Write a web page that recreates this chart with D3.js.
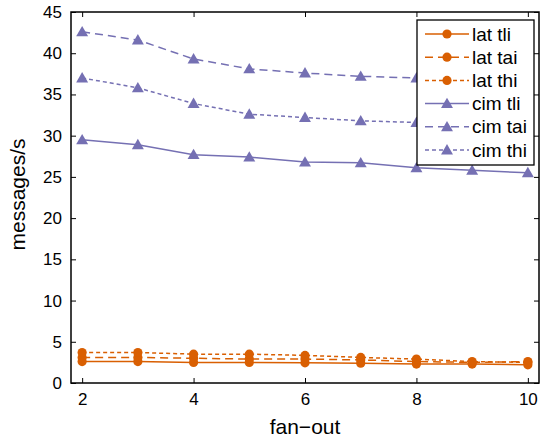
<!DOCTYPE html>
<html><head><meta charset="utf-8">
<script src="https://cdn.jsdelivr.net/npm/d3@7"></script>
<style>body{margin:0;background:#fff}svg{display:block}text{font-family:"Liberation Sans",Arial,sans-serif}</style>
</head><body>
<svg id="c" width="540" height="440"></svg>
<script>
const fanOut = [2, 3, 4, 5, 6, 7, 8, 9, 10];
const latTli = [2.6, 2.6, 2.5, 2.5, 2.45, 2.4, 2.3, 2.3, 2.2];
const latTai = [3.1, 3.1, 3.0, 2.9, 2.9, 2.8, 2.6, 2.5, 2.6];
const latThi = [3.7, 3.7, 3.5, 3.5, 3.35, 3.1, 2.9, 2.6, 2.5];
const cimTli = [29.5, 28.9, 27.7, 27.4, 26.8, 26.7, 26.1, 25.8, 25.5];
const cimTai = [42.6, 41.6, 39.3, 38.1, 37.6, 37.2, 37.0, 36.8, 36.6];
const cimThi = [37.0, 35.8, 33.9, 32.6, 32.2, 31.8, 31.6, 31.4, 31.2];
const seriesNames = ["lat tli", "lat tai", "lat thi", "cim tli", "cim tai", "cim thi"];
const xTicks = [2, 4, 6, 8, 10];
const yTicks = [0, 5, 10, 15, 20, 25, 30, 35, 40, 45];

const orange = "#d95f02", purple = "#7570b3";
const series = [
  {name: seriesNames[0], vals: latTli, color: orange, dash: null, marker: "circle"},
  {name: seriesNames[1], vals: latTai, color: orange, dash: "8,5", marker: "circle"},
  {name: seriesNames[2], vals: latThi, color: orange, dash: "4,3", marker: "circle"},
  {name: seriesNames[3], vals: cimTli, color: purple, dash: null, marker: "triangle"},
  {name: seriesNames[4], vals: cimTai, color: purple, dash: "8,5", marker: "triangle"},
  {name: seriesNames[5], vals: cimThi, color: purple, dash: "4,3", marker: "triangle"}
];

const svg = d3.select("#c");
const L = 71, R = 539, T = 12, B = 383;
const x = d3.scaleLinear().domain([1.8, 10.2]).range([L, R]);
const y = d3.scaleLinear().domain([0, 45]).range([B, T]);

const g = svg.append("g");
const line = d3.line().x((d, i) => x(fanOut[i])).y(d => y(d));
const tri = d3.symbol().type(d3.symbolTriangle).size(62);

function drawMarker(sel, s, cx, cy) {
  if (s.marker === "circle") {
    sel.append("circle").attr("cx", cx).attr("cy", cy).attr("r", 4.6).attr("fill", s.color);
  } else {
    sel.append("path").attr("d", tri).attr("transform", `translate(${cx},${cy + 1})`).attr("fill", s.color);
  }
}

series.forEach(s => {
  g.append("path").datum(s.vals).attr("d", line).attr("fill", "none")
    .attr("stroke", s.color).attr("stroke-width", 1.5)
    .attr("stroke-dasharray", s.dash);
  s.vals.forEach((v, i) => drawMarker(g, s, x(fanOut[i]), y(v)));
});

// axes
const axFont = 17;
const ax = svg.append("g");
ax.append("g").attr("transform", `translate(0,${B})`)
  .call(d3.axisBottom(x).tickValues(xTicks).tickSizeInner(-5).tickSizeOuter(0).tickPadding(10));
ax.append("g").attr("transform", `translate(${L},0)`)
  .call(d3.axisLeft(y).tickValues(yTicks).tickSizeInner(-5).tickSizeOuter(0).tickPadding(9));
ax.append("g").attr("transform", `translate(0,${T})`)
  .call(d3.axisTop(x).tickValues(xTicks).tickSizeInner(-5).tickSizeOuter(0).tickFormat(""));
ax.append("g").attr("transform", `translate(${R},0)`)
  .call(d3.axisRight(y).tickValues(yTicks).tickSizeInner(-5).tickSizeOuter(0).tickFormat(""));
ax.selectAll(".domain").remove();
ax.selectAll(".tick line").attr("stroke", "#000").attr("stroke-width", 1);
ax.selectAll(".tick text").attr("font-size", axFont).attr("fill", "#000").attr("font-family", "Liberation Sans, Arial, sans-serif");
ax.append("rect").attr("x", L).attr("y", T).attr("width", R - L).attr("height", B - T)
  .attr("fill", "none").attr("stroke", "#000").attr("stroke-width", 1.5);

svg.append("text").attr("x", (L + R) / 2).attr("y", 434).attr("text-anchor", "middle")
  .attr("font-size", 21).text("fan\u2212out");
svg.append("text").attr("transform", `translate(25,${(T + B) / 2 - 3}) rotate(-90)`)
  .attr("text-anchor", "middle").attr("font-size", 21).text("messages/s");

// legend
const lg = svg.append("g");
const lx = 417, ly = 20, lw = 117, lh = 145;
lg.append("rect").attr("x", lx).attr("y", ly).attr("width", lw).attr("height", lh)
  .attr("fill", "#fff").attr("stroke", "#000").attr("stroke-width", 1.3);
series.forEach((s, i) => {
  const cy = 34 + i * 23.2;
  lg.append("line").attr("x1", lx + 8).attr("x2", lx + 52).attr("y1", cy).attr("y2", cy)
    .attr("stroke", s.color).attr("stroke-width", 1.5).attr("stroke-dasharray", s.dash);
  drawMarker(lg, s, lx + 30, cy);
  lg.append("text").attr("x", lx + 55).attr("y", cy).attr("dy", "0.35em")
    .attr("font-size", 19).text(s.name);
});
</script>
</body></html>
